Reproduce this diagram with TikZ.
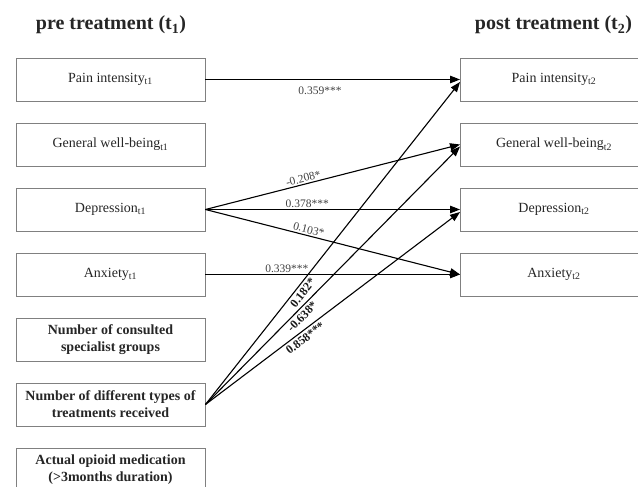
\documentclass[tikz,border=0pt]{standalone}
\usepackage{fontspec}
\setmainfont{Liberation Serif}
\usetikzlibrary{arrows.meta}
\begin{document}
\begin{tikzpicture}[x=1pt,y=-1pt,
 box/.style={draw=black!50, line width=0.9pt, minimum width=189pt, minimum height=43pt, inner sep=0pt, text=black!85, font=\fontsize{14}{17}\selectfont, align=center},
 rbox/.style={box, minimum width=187pt},
 bbox/.style={box, font=\fontsize{14}{17}\selectfont\bfseries},
 arr/.style={-{Triangle[length=10pt,width=7.5pt]}, line width=1.1pt},
 lab/.style={font=\fontsize{11.5}{13}\selectfont, text=black!75, inner sep=1.5pt},
 blab/.style={font=\fontsize{12}{14}\selectfont\bfseries, text=black!90, inner sep=1pt},
 ttl/.style={font=\fontsize{20}{24}\selectfont\bfseries, text=black!85, anchor=base}]
\useasboundingbox (0,0) rectangle (638,487);
\clip (0,0) rectangle (638,487);

\node[ttl] (tpre) at (111,30) {pre treatment (t\textsubscript{1})};
\node[ttl] (tpost) at (553.5,30) {post treatment (t\textsubscript{2})};

\node[box] (p1) at (110.5,79.5) {Pain intensity\textsubscript{t1}};
\node[box] (g1) at (110.5,144.5) {General well-being\textsubscript{t1}};
\node[box] (d1) at (110.5,209.5) {Depression\textsubscript{t1}};
\node[box] (a1) at (110.5,274.5) {Anxiety\textsubscript{t1}};
\node[bbox] (ncs) at (110.5,339.5) {Number of consulted\\specialist groups};
\node[bbox] (ndt) at (110.5,404.5) {Number of different types of\\treatments received};
\node[bbox] (op) at (110.5,469.5) {Actual opioid medication\\(>3months duration)};

\node[rbox] (p2) at (554,79.5) {Pain intensity\textsubscript{t2}};
\node[rbox] (g2) at (554,144.5) {General well-being\textsubscript{t2}};
\node[rbox] (d2) at (554,209.5) {Depression\textsubscript{t2}};
\node[rbox] (a2) at (554,274.5) {Anxiety\textsubscript{t2}};

\draw[arr] (p1.east) -- node[lab, below=5pt, pos=0.45] {0.359***} (p2.west);
\draw[arr] (d1.east) -- node[lab, sloped, above, pos=0.39] {-0.208*} (g2.west);
\draw[arr] (d1.east) -- node[lab, above, pos=0.40] {0.378***} (d2.west);
\draw[arr] (d1.east) -- node[lab, sloped, above, pos=0.40] {0.103*} (a2.west);
\draw[arr] (a1.east) -- node[lab, above, pos=0.32] {0.339***} (a2.west);

\draw[arr] (ndt.east) -- node[blab, sloped, below=1.5pt, pos=0.36] {0.182*} ([yshift=-2.5pt]p2.west);
\draw[arr] (ndt.east) -- node[blab, sloped, below=1.5pt, pos=0.36] {-0.638*} ([yshift=-2pt]g2.west);
\draw[arr] (ndt.east) -- node[blab, sloped, below=1.5pt, pos=0.375] {0.858***} ([yshift=-2.5pt]d2.west);
\end{tikzpicture}
\end{document}
